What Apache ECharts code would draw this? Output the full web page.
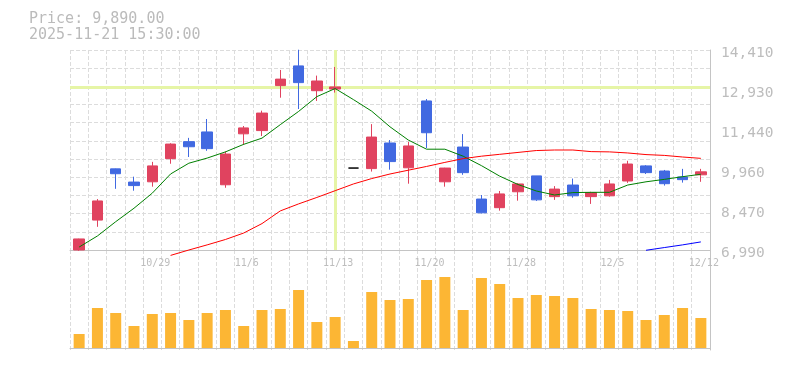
<!DOCTYPE html>
<html>
<head>
<meta charset="utf-8">
<script src="https://cdn.jsdelivr.net/npm/echarts@6/dist/echarts.min.js"></script>
<style>
html,body{margin:0;padding:0;background:#fff;}
#chart{width:785px;height:370px;}
</style>
</head>
<body>
<div id="chart"></div>
<script>
var dates = ['10/23','10/24','10/27','10/28','10/29','10/30','10/31','11/4','11/5','11/6',
             '11/7','11/10','11/11','11/12','11/13','11/14','11/17','11/18','11/19','11/20',
             '11/21','11/25','11/26','11/27','11/28','12/1','12/2','12/3','12/4','12/5',
             '12/8','12/9','12/10','12/11','12/12'];
var xLabelDates = ['10/29','11/6','11/13','11/20','11/28','12/5','12/12'];

var opens  = [6990, 8100,10000, 9510, 9520,10380,11010,11370, 9410,11300,
             11420,13090,13820,12900,12960,10030,10010,10960,10040,12520,
              9520,10810, 8880, 8560, 9150, 9740, 8970, 9400, 8970, 9000,
              9550,10110, 9920, 9700, 9780];
var closes = [7400, 8810, 9820, 9380,10110,10920,10820,10750,10550,11520,
             12070,13330,13200,13260,13040,10030,11180,10270,10850,11340,
             10030, 9860, 8370, 9070, 9440, 8850, 9250, 9000, 9120, 9440,
             10180, 9860, 9450, 9600, 9890];
var highs  = [7410, 8880,10010, 9710,10260,10950,11150,11850,10650,11590,
             12160,13670,14420,13460,13780,10030,11660,11070,11000,12590,
             10040,11290, 9030, 9180, 9470, 9740, 9360, 9640, 9150, 9590,
             10300,10140, 9960,10000,10000];
var lows   = [6960, 7850, 9260, 9190, 9340,10190,10440,10670, 9300,10890,
             11220,12640,12220,12520,12830,10030, 9900, 9970, 9450,10770,
              9340, 9780, 8350, 8450, 8820, 8810, 8850, 8930, 8700, 8970,
              9480, 9810, 9380, 9490, 9520];

var ma5  = [7100, 7510, 8040, 8540, 9100, 9810,10210,10400,10630,10910,
           11140,11640,12130,12680,12980,12570,12140,11560,11070,10730,
           10730,10470,10120, 9730, 9420, 9180, 9030, 9120, 9130, 9130,
            9400, 9520, 9610, 9710, 9800];
var ma25 = ['-','-','-','-','-', 6790, 6990, 7180, 7380, 7620,
            7970, 8440, 8700, 8940, 9190, 9440, 9640, 9810, 9950,10090,
           10240,10380,10470,10540,10610,10680,10700,10700,10640,10630,
           10590,10530,10500,10440,10390];
var ma75 = ['-','-','-','-','-','-','-','-','-','-',
            '-','-','-','-','-','-','-','-','-','-',
            '-','-','-','-','-','-','-','-','-','-',
            '-', 6980, 7080, 7180, 7290];

var volumes = [14,40,35,22,34,35,28,35,38,22,
               38,39,58,26,31, 7,56,48,49,68,
               71,38,70,64,50,53,52,50,39,38,
               37,28,33,40,30];

var yTickLabels = ['6,990','8,470','9,960','11,440','12,930','14,410'];
var priceMin = 6990, priceMax = 14410, priceStep = 1484;
var crossIndex = 14;
var headerPrice = 'Price: 9,890.00';
var headerDate = '2025-11-21 15:30:00';

var candleData = dates.map(function(d, i){ return [opens[i], closes[i], lows[i], highs[i]]; });

var FONT = '"DejaVu Sans Mono", "Liberation Mono", monospace';
var gridColor = '#dcdcdc';
var axisColor = '#c4c4c4';
var labelColor = '#bdbdbd';

var chart = echarts.init(document.getElementById('chart'), null, {renderer:'canvas'});
chart.setOption({
  animation: false,
  backgroundColor: '#fff',
  graphic: [
    {type:'text', left: 29, top: 12, style:{text: headerPrice, font: '15px ' + FONT, fill: '#bbbbbb'}},
    {type:'text', left: 29, top: 28, style:{text: headerDate, font: '15px ' + FONT, fill: '#bbbbbb'}}
  ],
  grid: [
    {left: 70, top: 50, width: 640, height: 200},
    {left: 70, top: 250, width: 640, height: 100}
  ],
  xAxis: [
    {type:'category', gridIndex:0, data: dates, boundaryGap: true,
     axisLine:{show:true, lineStyle:{color: axisColor, width: 1}},
     axisTick:{show:false},
     axisLabel:{show:true, color: labelColor, fontSize: 10, fontFamily: FONT, margin: 8,
       padding:[0,0,0,6],
       interval: function(i, v){ return xLabelDates.indexOf(v) >= 0; }},
     splitLine:{show:true, interval: 0, lineStyle:{color: gridColor, type:'dashed', width:1}}},
    {type:'category', gridIndex:1, data: dates, boundaryGap: true,
     axisLine:{show:true, lineStyle:{color: axisColor, width: 1}},
     axisTick:{show:false}, axisLabel:{show:false},
     splitLine:{show:true, interval: 0, lineStyle:{color: gridColor, type:'dashed', width:1}}}
  ],
  yAxis: [
    {type:'value', gridIndex:0, position:'right', min: priceMin, max: priceMax, interval: priceStep,
     axisLine:{show:true, lineStyle:{color: axisColor, width:1}},
     axisTick:{show:false},
     axisLabel:{show:true, color: labelColor, fontSize: 14.5, fontFamily: FONT, margin: 11,
       verticalAlign:'top', lineHeight: 7,
       formatter: function(v, idx){ return yTickLabels[Math.round((v - priceMin) / priceStep)]; }},
     splitLine:{show:false}},
    {type:'value', gridIndex:0, position:'left', min: 0, max: 11, interval: 1,
     axisLine:{show:false}, axisTick:{show:false}, axisLabel:{show:false},
     splitLine:{show:true, lineStyle:{color: gridColor, type:'dashed', width:1}}},
    {type:'value', gridIndex:1, position:'right', min: -2, max: 98,
     axisLine:{show:true, lineStyle:{color: axisColor, width:1}},
     axisTick:{show:false}, axisLabel:{show:false}, splitLine:{show:false}}
  ],
  series: [
    {type:'candlestick', xAxisIndex:0, yAxisIndex:0, data: candleData, barWidth: 11, clip: false, z: 2,
     itemStyle:{color:'#e0435f', color0:'#4169e1', borderColor:'#e0435f', borderColor0:'#4169e1',
                borderColorDoji:'#000000', borderWidth:1},
     markLine:{silent:true, symbol:['none','none'], z: 1, label:{show:false},
       lineStyle:{color:'#e6f5a6', width:3, type:'solid'},
       data:[{xAxis: dates[crossIndex]}, {yAxis: closes[crossIndex]}]}},
    {type:'line', xAxisIndex:0, yAxisIndex:0, data: ma5, symbol:'none', z: 3, clip:false,
     lineStyle:{color:'#008000', width:1}},
    {type:'line', xAxisIndex:0, yAxisIndex:0, data: ma25, symbol:'none', z: 3, clip:false,
     lineStyle:{color:'#ff0000', width:1}},
    {type:'line', xAxisIndex:0, yAxisIndex:0, data: ma75, symbol:'none', z: 3, clip:false,
     lineStyle:{color:'#0000ff', width:1}},
    {type:'bar', xAxisIndex:1, yAxisIndex:2, data: volumes, barWidth: 11,
     itemStyle:{color:'#fcb634'}}
  ]
});
</script>
</body>
</html>
